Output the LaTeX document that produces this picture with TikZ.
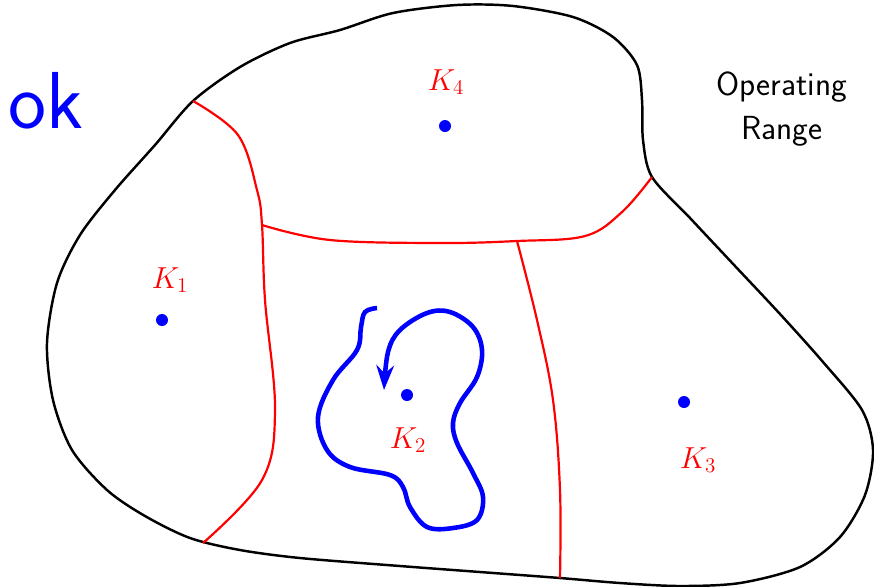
\documentclass[tikz,border=0pt]{standalone}
\usetikzlibrary{arrows.meta}
\tikzset{
  gain/.style={circle, fill=blue, inner sep=0pt, minimum size=0.24cm},
  gainlabel/.style={text=red, font=\fontsize{16.5}{20}\selectfont},
  border/.style={red, line width=1.25pt},
}
\begin{document}
\begin{tikzpicture}[x=0.02cm, y=-0.02cm, >={Stealth[length=14pt, width=10pt]}]
\useasboundingbox (0,0) rectangle (874,586);

% operating range
\draw[line width=1.4pt] plot[smooth cycle, tension=0.5] coordinates {
  (193,101) (240,67) (290,43) (340,30) (393,13) (457,5) (513,6) (573,17) (613,37)
  (637,65) (642,100) (643,140) (652,177) (690,218) (735,266) (780,314) (823,362)
  (862,410) (873,450) (865,495) (840,537) (800,567) (740,583) (680,586) (620,583)
  (560,578) (480,572) (400,566) (300,558) (240,550) (190,538) (145,516) (107,490)
  (72,450) (53,400) (47,343) (57,283) (80,235) (115,190) (155,145)};

% regions
\draw[border] plot[smooth, tension=0.6] coordinates {
  (193,101) (238,135) (257,190) (262,225) (265,300) (275,410) (262,480) (203,543)};
\draw[border] plot[smooth, tension=0.6] coordinates {
  (262,225) (330,240) (440,243) (517,241) (585,236) (622,212) (652,177)};
\draw[border] plot[smooth, tension=0.6] coordinates {
  (517,241) (537,320) (553,400) (560,490) (560,578)};

% controllers
\node[gain] (k1) at (162,320) {};
\node[gain] (k2) at (407,395) {};
\node[gain] (k3) at (684,402) {};
\node[gain] (k4) at (445,126) {};
\node[gainlabel] (l1) at (170,280) {$K_1$};
\node[gainlabel] (l2) at (408,440) {$K_2$};
\node[gainlabel] (l3) at (698,460) {$K_3$};
\node[gainlabel] (l4) at (446,82) {$K_4$};

% trajectory
\draw[blue, line width=2.6pt, ->] plot[smooth, tension=0.6] coordinates {
  (377,308) (365,312) (361,327) (357,350) (333,380) (318,417) (327,450) (350,467)
  (390,475) (403,487) (410,507) (427,527) (453,528) (477,520) (483,497) (473,473)
  (457,443) (453,423) (460,403) (477,377) (482,350) (473,327) (450,312) (427,313)
  (400,330) (388,352) (384,390)};

\node[blue, font=\sffamily\fontsize{46}{50}\selectfont] (ok) at (46,101) {ok};
\node[align=center, font=\sffamily\fontsize{19}{25}\selectfont] (range) at (782,109) {Operating\\Range};
\end{tikzpicture}
\end{document}
